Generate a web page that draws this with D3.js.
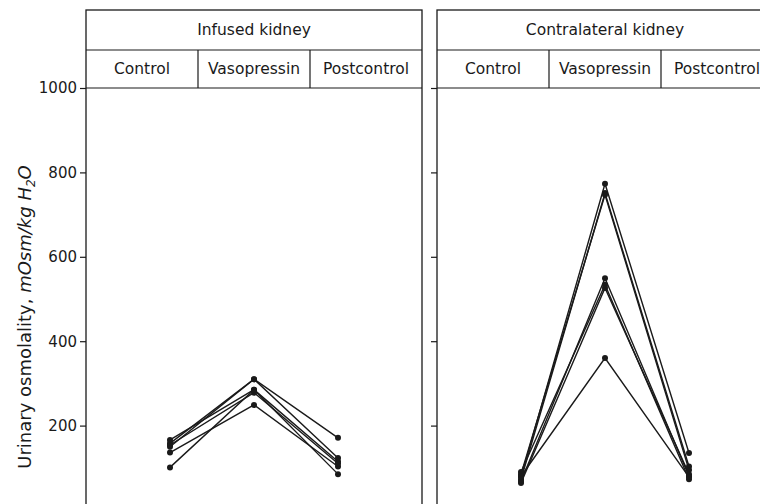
<!DOCTYPE html>
<html>
<head>
<meta charset="utf-8">
<script src="https://cdn.jsdelivr.net/npm/d3@7"></script>
<style>
  html, body { margin: 0; padding: 0; background: #fff; }
  svg { display: block; }
  text { font-family: "DejaVu Sans", sans-serif; fill: #1a1a1a; }
</style>
</head>
<body>
<svg id="chart" width="760" height="504"></svg>
<script>
// ---- data ----
const categories = ["Control", "Vasopressin", "Postcontrol"];
const panelTitles = ["Infused kidney", "Contralateral kidney"];
const yTicks = [200, 400, 600, 800, 1000];
// each row: one animal, values for Control, Vasopressin, Postcontrol
const infusedSeries = [
  [158, 310, 171],
  [150, 310, 123],
  [166, 285, 115],
  [136, 249, 103],
  [101, 285, 85],
  [154, 278, 110]
];
const contralateralSeries = [
  [78, 773, 135],
  [72, 751, 103],
  [85, 747, 95],
  [68, 549, 80],
  [90, 534, 73],
  [64, 526, 85],
  [80, 360, 78]
];

// ---- layout ----
const svg = d3.select("#chart");
const panelW = 336;
const panelX = [86, 437];
const topY = 10, midY = 50, plotTop = 88, bottomY = 530;
const ink = "#1a1a1a";

const y = d3.scaleLinear().domain([0, 1000]).range([510, plotTop]);

const panelsData = [infusedSeries, contralateralSeries];

panelsData.forEach((series, i) => {
  const x0 = panelX[i];
  const g = svg.append("g");
  const band = d3.scaleBand().domain(categories).range([x0, x0 + panelW]);
  const x = d3.scalePoint().domain(categories).range([x0, x0 + panelW]).padding(1);

  // panel frame
  g.append("rect")
    .attr("x", x0).attr("y", topY)
    .attr("width", panelW).attr("height", bottomY - topY)
    .attr("fill", "none").attr("stroke", ink).attr("stroke-width", 1.3);
  g.append("line").attr("x1", x0).attr("x2", x0 + panelW)
    .attr("y1", midY).attr("y2", midY).attr("stroke", ink).attr("stroke-width", 1.2);
  g.append("line").attr("x1", x0).attr("x2", x0 + panelW)
    .attr("y1", plotTop).attr("y2", plotTop).attr("stroke", ink).attr("stroke-width", 1.2);
  categories.slice(1).forEach(c => {
    g.append("line").attr("x1", band(c)).attr("x2", band(c))
      .attr("y1", midY).attr("y2", plotTop).attr("stroke", ink).attr("stroke-width", 1.2);
  });

  // titles
  g.append("text").attr("x", x0 + panelW / 2).attr("y", (topY + midY) / 2)
    .attr("text-anchor", "middle").attr("dominant-baseline", "central")
    .attr("font-size", 15.5).text(panelTitles[i]);
  categories.forEach(c => {
    g.append("text").attr("x", band(c) + band.bandwidth() / 2).attr("y", (midY + plotTop) / 2)
      .attr("text-anchor", "middle").attr("dominant-baseline", "central")
      .attr("font-size", 15.5).text(c);
  });

  // axis
  const axis = d3.axisLeft(y).tickValues(yTicks).tickSize(6).tickSizeOuter(0)
    .tickFormat(i === 1 ? "" : d3.format("d"));
  const ag = g.append("g").attr("transform", `translate(${x0},0)`).call(axis);
  ag.select(".domain").remove();
  ag.selectAll("line").attr("stroke", ink).attr("stroke-width", 1.2);
  ag.selectAll("text").attr("font-size", 15).attr("font-family", "DejaVu Sans, sans-serif")
    .attr("fill", ink).attr("x", -9);

  // lines
  const line = d3.line().x((d, j) => x(categories[j])).y(d => y(d));
  g.selectAll("path.series").data(series).join("path")
    .attr("class", "series")
    .attr("d", line)
    .attr("fill", "none").attr("stroke", ink).attr("stroke-width", 1.4);
  series.forEach(s => {
    g.selectAll(null).data(s).join("circle")
      .attr("cx", (d, j) => x(categories[j])).attr("cy", d => y(d))
      .attr("r", 3).attr("fill", ink);
  });
});

// y axis title
const yt = svg.append("text")
  .attr("transform", `translate(31, 317) rotate(-90)`)
  .attr("text-anchor", "middle")
  .attr("font-size", 18);
yt.append("tspan").text("Urinary osmolality,  ");
yt.append("tspan").attr("font-style", "italic").text("mOsm/kg H");
yt.append("tspan").attr("font-style", "italic").attr("font-size", 12).attr("dy", 4).text("2");
yt.append("tspan").attr("font-style", "italic").attr("dy", -4).text("O");
</script>
</body>
</html>
